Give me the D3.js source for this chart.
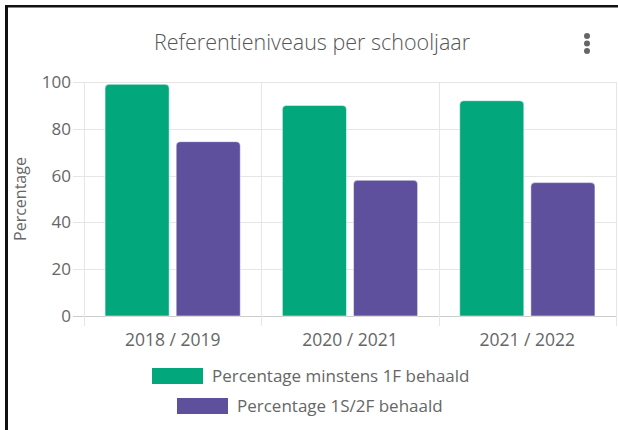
<!DOCTYPE html>
<html>
<head>
<meta charset="utf-8">
<script src="https://cdn.jsdelivr.net/npm/d3@7"></script>
<style>
  body { margin: 0; background: #fff; }
  svg { display: block; font-family: "Open Sans", sans-serif; }
</style>
</head>
<body>
<svg width="618" height="430"></svg>
<script>
// ---- Data
const categories = ['2018 / 2019', '2020 / 2021', '2021 / 2022'];
const seriesNames = ['Percentage minstens 1F behaald', 'Percentage 1S/2F behaald'];
const minstens1F = [99, 90, 92];
const behaald1S2F = [74.5, 58, 57];
const yTicks = [0, 20, 40, 60, 80, 100];
const colors = ['#02a87b', '#5f509e'];

const svg = d3.select('svg');
const plot = { left: 84, right: 616, top: 82, bottom: 316 };

// ---- frame (black border of screenshot)
svg.append('rect').attr('x', 5).attr('y', 5).attr('width', 3).attr('height', 425).attr('fill', '#111');
svg.append('rect').attr('x', 5).attr('y', 5).attr('width', 613).attr('height', 2.5).attr('fill', '#111');

// ---- Escalas
const x = d3.scaleBand().domain(categories).range([plot.left, plot.right]);
const xSub = d3.scaleBand().domain(seriesNames).range([0, x.bandwidth()])
    .paddingInner(0.099).paddingOuter(0.296);
const y = d3.scaleLinear().domain([0, 100]).range([plot.bottom, plot.top]);

// ---- Title
svg.append('text')
    .attr('x', 312).attr('y', 50)
    .attr('text-anchor', 'middle')
    .attr('fill', '#555')
    .attr('font-size', 21.5)
    .attr('font-weight', 300)
    .text('Referentieniveaus per schooljaar');

// menu dots
svg.append('g').attr('fill', '#666')
    .selectAll('circle').data([0, 1, 2]).join('circle')
    .attr('cx', 587).attr('cy', d => 36 + d * 7.5).attr('r', 3);

// ---- Grid
const grid = svg.append('g');
grid.selectAll('line.h').data(yTicks).join('line')
    .attr('class', 'h')
    .attr('x1', plot.left - 11).attr('x2', plot.right)
    .attr('y1', d => Math.round(y(d)) + 0.5).attr('y2', d => Math.round(y(d)) + 0.5)
    .attr('stroke', d => d === 0 ? '#cccccc' : '#e6e6e6');

const bounds = categories.map(c => x(c)).concat([plot.right]);
grid.selectAll('line.v').data(bounds).join('line')
    .attr('class', 'v')
    .attr('x1', d => Math.round(d) + 0.5).attr('x2', d => Math.round(d) + 0.5)
    .attr('y1', plot.top).attr('y2', plot.bottom + 10)
    .attr('stroke', '#e6e6e6');

// ---- Y axis labels
svg.append('g').selectAll('text').data(yTicks).join('text')
    .attr('x', 71).attr('y', d => y(d))
    .attr('dy', '0.35em')
    .attr('text-anchor', 'end')
    .attr('fill', '#666')
    .attr('font-size', 17)
    .text(d => d);

svg.append('text')
    .attr('transform', 'translate(26, 199) rotate(-90)')
    .attr('text-anchor', 'middle')
    .attr('fill', '#666')
    .attr('font-size', 16)
    .text('Percentage');

// ---- X axis labels
svg.append('g').selectAll('text').data(categories).join('text')
    .attr('x', d => x(d) + x.bandwidth() / 2)
    .attr('y', 346)
    .attr('text-anchor', 'middle')
    .attr('fill', '#666')
    .attr('font-size', 17.5)
    .text(d => d);

// ---- Barras (top corners rounded)
const r = 4;
function barPath(x0, w, yTop, yBot) {
    return `M${x0},${yBot}V${yTop + r}Q${x0},${yTop} ${x0 + r},${yTop}` +
        `H${x0 + w - r}Q${x0 + w},${yTop} ${x0 + w},${yTop + r}V${yBot}Z`;
}
const series = [minstens1F, behaald1S2F];
const barData = [];
categories.forEach((c, i) => {
    seriesNames.forEach((s, j) => barData.push({ cat: c, name: s, value: series[j][i], color: colors[j] }));
});
svg.append('g').selectAll('path').data(barData).join('path')
    .attr('d', d => barPath(x(d.cat) + xSub(d.name), xSub.bandwidth(), y(d.value), y(0)))
    .attr('fill', d => d.color)
    .attr('stroke', '#ffffff')
    .attr('stroke-opacity', 0.5)
    .attr('stroke-width', 1);

// ---- Legend
const legendPos = [{ x: 152, y: 368 }, { x: 177, y: 398 }];
const legend = svg.append('g').selectAll('g').data(seriesNames).join('g')
    .attr('transform', (d, i) => `translate(${legendPos[i].x}, ${legendPos[i].y})`);
legend.append('rect')
    .attr('width', 51).attr('height', 16)
    .attr('fill', (d, i) => colors[i]);
legend.append('text')
    .attr('x', 60).attr('y', 8).attr('dy', '0.35em')
    .attr('fill', '#666')
    .attr('font-size', 17)
    .text(d => d);
</script>
</body>
</html>
